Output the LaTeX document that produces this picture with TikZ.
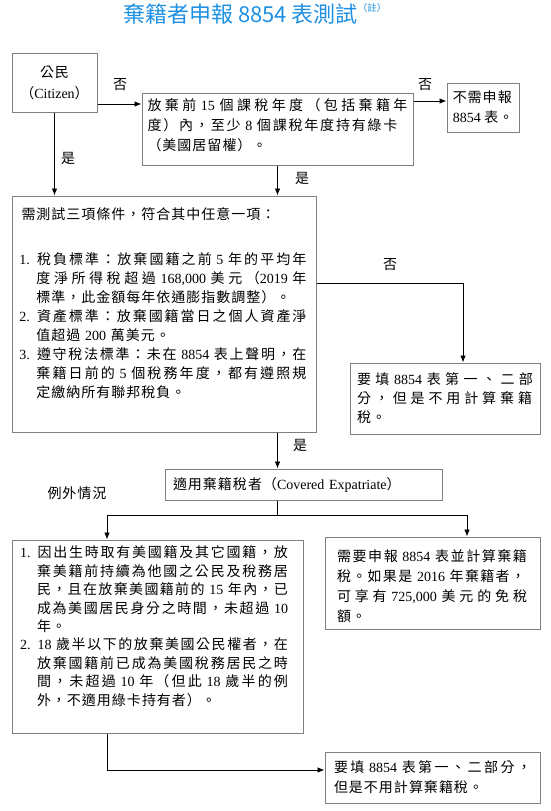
\documentclass[tikz,border=0pt]{standalone}
\usepackage{fontspec}
\setmainfont{Liberation Serif}
\newfontfamily\cjk{Noto Sans CJK TC}
\usetikzlibrary{arrows.meta}
\definecolor{titleblue}{RGB}{30,144,226}

% Han characters and fullwidth punctuation in the CJK font, the rest in Liberation Serif
\newlength\cjkgap
\setlength\cjkgap{1pt plus 1pt}
\chardef\cjkclass=10
\newcount\cjkcode
\newcommand\cjkrange[2]{\cjkcode=#1\relax
  \loop\XeTeXcharclass\cjkcode=\cjkclass
  \ifnum\cjkcode<#2\relax\advance\cjkcode by 1\repeat}
\cjkrange{"3000}{"303F}
\cjkrange{"4E00}{"9FFF}
\cjkrange{"FF00}{"FFEF}
\XeTeXinterchartokenstate=1
\XeTeXinterchartoks 0 \cjkclass = {\cjk}
\XeTeXinterchartoks 4095 \cjkclass = {\cjk}
\XeTeXinterchartoks \cjkclass 0 = {\rmfamily}
\XeTeXinterchartoks \cjkclass 4095 = {\rmfamily}
\XeTeXinterchartoks \cjkclass \cjkclass = {\nobreak\hskip\cjkgap}

\newcommand\fullline[2]{\makebox[#1][s]{#2}}
\newcommand\itemind{\hspace*{17pt}}

\begin{document}
\begin{tikzpicture}[x=1pt,y=-1pt,
  every node/.style={font=\fontsize{14}{19}\selectfont},
  box/.style={draw=black!50,line width=1pt,align=left,inner ysep=3pt},
  arr/.style={draw=black,line width=0.8pt,-{Latex[length=7pt,width=5.5pt]}}]
\useasboundingbox (0,0) rectangle (550,811);

% title
\node[anchor=base west,text=titleblue,inner sep=0pt,
  font={\XeTeXinterchartokenstate=0 \cjk\fontsize{22}{22}\selectfont}] (title) at (123,22)
  {棄籍者申報 8854 表測試\raisebox{10pt}{\fontsize{9.5}{9.5}\selectfont（註）}};

% boxes
\node[box,minimum width=85pt,minimum height=59pt,align=center,font=\fontsize{14}{21}\selectfont] (citizen) at (54.5,82.5) {公民\\（Citizen）};
\node[box,text width=260pt,inner xsep=5.5pt,minimum height=72pt,text depth=48pt,font=\fontsize{14}{20}\selectfont] (period) at (277.5,129)
  {\fullline{260pt}{放棄前 15 個課稅年度（包括棄籍年}\\
   \fullline{250pt}{度）內，至少 8 個課稅年度持有綠卡}\\
   （美國居留權）。};
\node[box,minimum width=72pt,minimum height=49pt,font=\fontsize{14}{20}\selectfont] (nofile) at (483,107.5) {不需申報\\8854 表。};
\node[box,text width=289pt,inner xsep=7.5pt,minimum height=236pt,text depth=200pt] (test) at (164,314)
  {\hspace*{2pt}需測試三項條件，符合其中任意一項：\\[26pt]
   \fullline{287pt}{1. 稅負標準：放棄國籍之前 5 年的平均年}\\
   \itemind\fullline{270pt}{度淨所得稅超過 168,000 美元（2019 年}\\
   \itemind 標準，此金額每年依通膨指數調整）。\\
   \fullline{287pt}{2. 資產標準：放棄國籍當日之個人資產淨}\\
   \itemind 值超過 200 萬美元。\\
   \fullline{287pt}{3. 遵守稅法標準：未在 8854 表上聲明，在}\\
   \itemind\fullline{270pt}{棄籍日前的 5 個稅務年度，都有遵照規}\\
   \itemind 定繳納所有聯邦稅負。};
\node[box,text width=176pt,inner xsep=7pt,minimum height=71pt] (part) at (445,398.5)
  {\fullline{176pt}{要填 8854 表第一、二部}\\
   \fullline{175pt}{分，但是不用計算棄籍}\\
   稅。};
\node[box,text width=261pt,inner xsep=8pt,minimum height=31pt] (covered) at (303.5,484.5) {適用棄籍稅者（Covered Expatriate）};
\node[box,text width=275pt,inner xsep=8pt,minimum height=193pt,text depth=169pt,font=\fontsize{14}{18.4}\selectfont] (exception) at (157.5,636.5)
  {\fullline{268pt}{1. 因出生時取有美國籍及其它國籍，放}\\
   \itemind\fullline{251pt}{棄美籍前持續為他國之公民及稅務居}\\
   \itemind\fullline{251pt}{民，且在放棄美國籍前的 15 年內，已}\\
   \itemind\fullline{251pt}{成為美國居民身分之時間，未超過 10}\\
   \itemind 年。\\
   \fullline{268pt}{2. 18 歲半以下的放棄美國公民權者，在}\\
   \itemind\fullline{251pt}{放棄國籍前已成為美國稅務居民之時}\\
   \itemind\fullline{251pt}{間，未超過 10 年（但此 18 歲半的例}\\
   \itemind 外，不適用綠卡持有者）。};
\node[box,text width=191pt,inner xsep=12pt,minimum height=92pt,text depth=54pt,font=\fontsize{14}{20}\selectfont] (tax) at (432.5,583)
  {\fullline{190pt}{需要申報 8854 表並計算棄籍}\\
   \fullline{188pt}{稅。如果是 2016 年棄籍者，}\\
   \fullline{190pt}{可享有 725,000 美元的免稅}\\
   額。};
\node[box,text width=197pt,inner xsep=9pt,minimum height=51pt,font=\fontsize{14}{20}\selectfont] (final) at (432.5,777.5)
  {\fullline{197pt}{要填 8854 表第一、二部分，}\\
   但是不用計算棄籍稅。};

% labels
\node (no1) at (120,85) {否};
\node (no2) at (425,85) {否};
\node (no3) at (390,265) {否};
\node (yes1) at (68,158) {是};
\node (yes2) at (302,178) {是};
\node (yes3) at (300,445) {是};
\node (except) at (77,493) {例外情況};

% connectors
\coordinate (c1) at ([yshift=-21.5pt]citizen.east);
\draw[arr] (c1) -- (c1 -| period.west);
\coordinate (c2) at ([yshift=6.5pt]nofile.west);
\draw[arr] (c2 -| period.east) -- (c2);
\draw[arr] (citizen.south) -- (citizen.south |- test.north);
\draw[arr] (period.south) -- (period.south |- test.north);
\coordinate (c3) at ([yshift=31pt]test.east);
\draw[arr] (c3) -| ([xshift=18pt]part.north);
\draw[arr] (test.south -| period.south) -- (period.south |- covered.north);
\draw (covered.south -| period.south) -- ++(0,15) coordinate (fork);
\draw[arr] (fork) -| ([xshift=-50.5pt]exception.north);
\draw[arr] (fork) -| ([xshift=34.5pt]tax.north);
\coordinate (c4) at ([xshift=-50.5pt]exception.south);
\draw[arr] (c4) |- ([yshift=7.5pt]final.west);
\end{tikzpicture}
\end{document}
